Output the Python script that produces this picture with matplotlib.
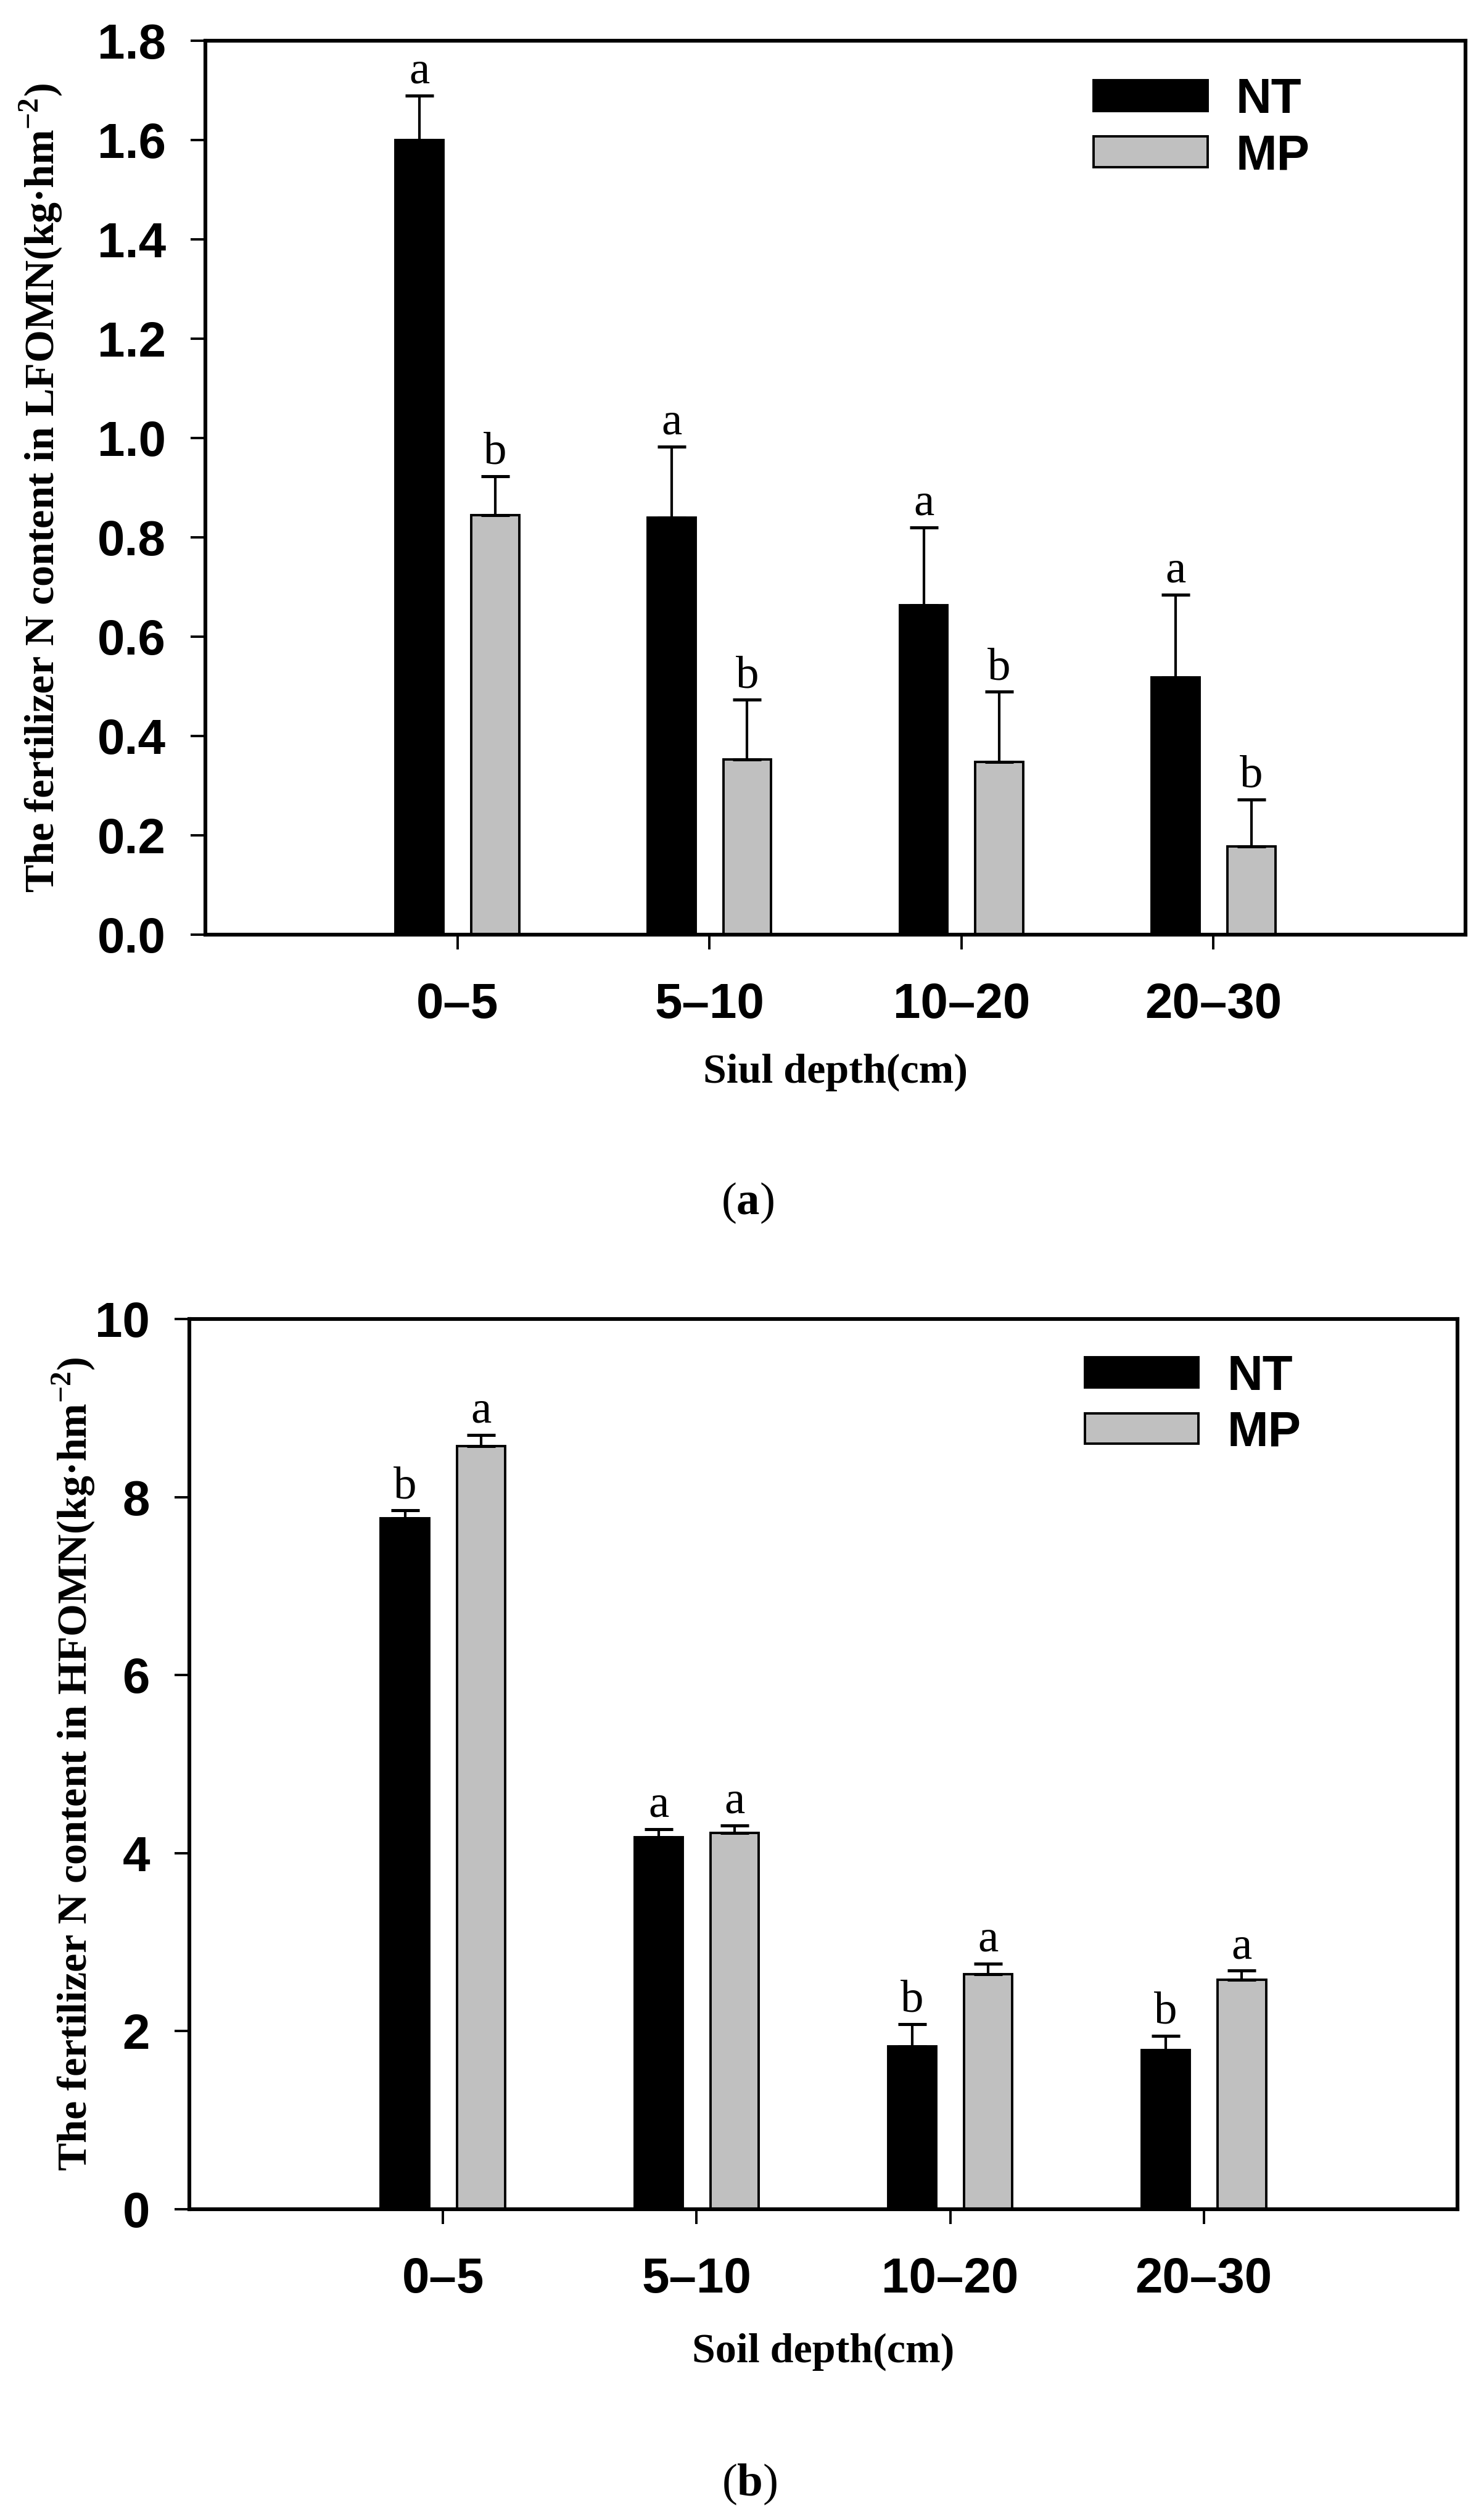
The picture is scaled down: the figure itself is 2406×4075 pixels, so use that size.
"""
Fertilizer N in LFOMN / HFOMN by soil depth, NT vs MP. Two panels, (a) and (b).
"""
import numpy as np
import matplotlib
matplotlib.use("Agg")
import matplotlib.pyplot as plt

plt.rcParams["mathtext.fontset"] = "custom"
plt.rcParams["mathtext.rm"] = "Liberation Serif"
plt.rcParams["mathtext.bf"] = "Liberation Serif:bold"

depths = ["0–5", "5–10", "10–20", "20–30"]

# (a) LFOMN
lf_nt = [1.60, 0.84, 0.663, 0.518]
lf_nt_err = [0.09, 0.143, 0.157, 0.167]
lf_mp = [0.845, 0.353, 0.348, 0.178]
lf_mp_err = [0.078, 0.12, 0.141, 0.094]
lf_nt_sig = ["a", "a", "a", "a"]
lf_mp_sig = ["b", "b", "b", "b"]

# (b) HFOMN
hf_nt = [7.76, 4.18, 1.83, 1.79]
hf_nt_err = [0.09, 0.09, 0.25, 0.16]
hf_mp = [8.57, 4.23, 2.64, 2.58]
hf_mp_err = [0.13, 0.08, 0.12, 0.10]
hf_nt_sig = ["b", "a", "b", "b"]
hf_mp_sig = ["a", "a", "a", "a"]

SANS = "Liberation Sans"
SERIF = "Liberation Serif"
W, H = 2406, 4075


def panel(ax, nt, nt_err, mp, mp_err, nt_sig, mp_sig, ymax, yticks, yfmt,
          ylabel, xlabel, ylab_x, xlab_y, leg_xy):
    x = np.arange(len(depths))
    off, w = 0.15, 0.19
    ekw = dict(elinewidth=1.5, capthick=1.8, ecolor="black")
    z = np.zeros(len(depths))
    ax.bar(x - off, nt, w, color="black", edgecolor="black", lw=1.4, label="NT",
           yerr=[z, nt_err], capsize=8.3, error_kw=ekw)
    ax.bar(x + off, mp, w, color="#c0c0c0", edgecolor="black", lw=1.4, label="MP",
           yerr=[z, mp_err], capsize=8.3, error_kw=ekw)
    for xs, vals, errs, sig in [(x - off, nt, nt_err, nt_sig), (x + off, mp, mp_err, mp_sig)]:
        for xi, v, e, s in zip(xs, vals, errs, sig):
            ax.annotate(s, (xi, v + e), xytext=(0, 1.5), textcoords="offset points",
                        ha="center", va="bottom", fontsize=27, family=SERIF)

    ax.set_xlim(-1, 4)
    ax.set_ylim(0, ymax)
    ax.set_xticks(x)
    ax.set_xticklabels(depths)
    ax.set_yticks(yticks)
    ax.set_yticklabels([yfmt.format(t) for t in yticks])
    for lab in ax.get_xticklabels() + ax.get_yticklabels():
        lab.set_fontfamily(SANS)
        lab.set_fontweight("bold")
        lab.set_fontsize(28.8)
    ax.tick_params(direction="out", length=8.6, width=1.4, top=False, right=False)
    ax.tick_params(axis="x", pad=19)
    ax.tick_params(axis="y", pad=14.5)
    for sp in ax.spines.values():
        sp.set_linewidth(2.2)

    ax.set_ylabel(ylabel, family=SERIF, weight="bold", fontsize=24.5)
    ax.yaxis.set_label_coords(ylab_x, 0.5)
    ax.set_xlabel(xlabel, family=SERIF, weight="bold", fontsize=24.5)
    ax.xaxis.set_label_coords(0.5, xlab_y)

    ax.legend(frameon=False, loc="upper left", bbox_to_anchor=leg_xy,
              borderpad=0, borderaxespad=0, handlelength=2.31, handleheight=0.575,
              handletextpad=0.575, labelspacing=0.2,
              prop=dict(family=SANS, weight="bold", size=28.8))


fig = plt.figure(figsize=(W / 200, H / 200), dpi=200)

# ── (a) ─────────────────────────────────────────────
ax1 = fig.add_axes([333 / W, 1 - 1515 / H, 2043 / W, 1449 / H])
panel(ax1, lf_nt, lf_nt_err, lf_mp, lf_mp_err, lf_nt_sig, lf_mp_sig,
      1.8, np.arange(0, 1.81, 0.2), "{:.1f}",
      r"The fertilizer N content in LFOMN(kg·hm$^{\mathbf{-2}}$)",
      "Siul depth(cm)", -0.1116, -0.133, (0.705, 0.959))
fig.text(1212 / W, 1 - 1950 / H, r"($\mathbf{a}$)", ha="center", va="center",
         family=SERIF, fontsize=27)

# ── (b) ─────────────────────────────────────────────
ax2 = fig.add_axes([307 / W, 1 - 3581 / H, 2056 / W, 1443 / H])
panel(ax2, hf_nt, hf_nt_err, hf_mp, hf_mp_err, hf_nt_sig, hf_mp_sig,
      10, np.arange(0, 11, 2), "{:.0f}",
      r"The fertilizer N content in HFOMN(kg·hm$^{\mathbf{-2}}$)",
      "Soil depth(cm)", -0.0725, -0.139, (0.706, 0.9605))
fig.text(1215 / W, 1 - 4027 / H, r"($\mathbf{b}$)", ha="center", va="center",
         family=SERIF, fontsize=27)

fig.savefig("out.png", dpi=200)
print("→ out.png")
